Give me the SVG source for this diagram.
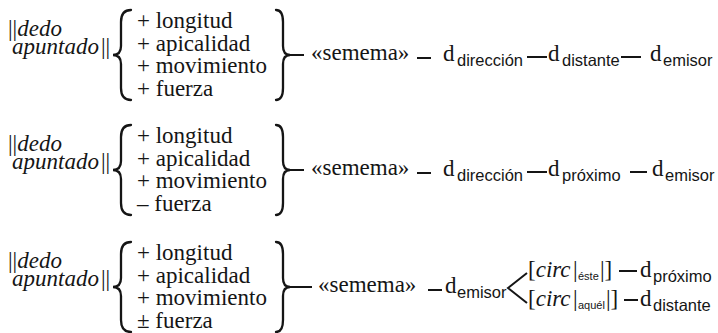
<svg xmlns="http://www.w3.org/2000/svg" width="718" height="333" viewBox="0 0 718 333">
<style>
.t{font-family:"Liberation Serif","Times New Roman",serif;font-size:23px;fill:#151515}
.i{font-style:italic}
.s{font-family:"Liberation Sans",Arial,sans-serif;font-size:16.5px}
.ss{font-family:"Liberation Sans",Arial,sans-serif;font-size:11px}
.c{stroke:#151515;stroke-width:2;fill:none}
.br{stroke:#151515;stroke-width:2.3;fill:none;stroke-linecap:round}
</style>
<defs>
<path id="lb" class="br" d="M131,10 C124,10 121,14 121,22 L121,46 C121,52 118,55 113,55 C118,55 121,58 121,64 L121,88 C121,96 124,100 131,100"/>
<path id="rb" class="br" d="M276,10 C281,10 283,14 283,22 L283,46 C283,52 285,55 290,55 C285,55 283,58 283,64 L283,88 C283,96 281,100 276,100"/>
</defs>

<!-- Row 1 -->
<g id="row1">
<g id="r1-lexeme"><text class="t"><tspan x="8" y="36">||</tspan><tspan class="i">dedo</tspan><tspan class="i" x="12" y="54">apuntado</tspan><tspan x="101" y="54">||</tspan></text></g>
<g id="r1-features">
<use href="#lb"/>
<text class="t"><tspan x="137" y="28">+ longitud</tspan><tspan x="137" y="50.5">+ apicalidad</tspan><tspan x="137" y="73">+ movimiento</tspan><tspan x="137" y="95.5">+ fuerza</tspan></text>
<use href="#rb"/>
</g>
<g id="r1-semema"><text class="t" x="311" y="60">«semema»</text></g>
<g id="r1-direccion"><text class="t" x="443" y="61">d<tspan class="s" x="457" y="66">dirección</tspan></text></g>
<g id="r1-distante"><text class="t" x="548" y="61">d<tspan class="s" x="562" y="66">distante</tspan></text></g>
<g id="r1-emisor"><text class="t" x="650" y="61">d<tspan class="s" x="663" y="66">emisor</tspan></text></g>
</g>

<!-- Row 2 -->
<g id="row2" transform="translate(0,115)">
<g id="r2-lexeme"><text class="t"><tspan x="8" y="36">||</tspan><tspan class="i">dedo</tspan><tspan class="i" x="12" y="54">apuntado</tspan><tspan x="101" y="54">||</tspan></text></g>
<g id="r2-features">
<use href="#lb"/>
<text class="t"><tspan x="137" y="28">+ longitud</tspan><tspan x="137" y="50.5">+ apicalidad</tspan><tspan x="137" y="73">+ movimiento</tspan><tspan x="137" y="95.5">– fuerza</tspan></text>
<use href="#rb"/>
</g>
<g id="r2-semema"><text class="t" x="311" y="60">«semema»</text></g>
<g id="r2-direccion"><text class="t" x="443" y="61">d<tspan class="s" x="457" y="66">dirección</tspan></text></g>
<g id="r2-proximo"><text class="t" x="548" y="61">d<tspan class="s" x="562" y="66">próximo</tspan></text></g>
<g id="r2-emisor"><text class="t" x="652" y="61">d<tspan class="s" x="665" y="66">emisor</tspan></text></g>
</g>

<!-- Row 3 -->
<g id="row3" transform="translate(0,232)">
<g id="r3-lexeme"><text class="t"><tspan x="8" y="36">||</tspan><tspan class="i">dedo</tspan><tspan class="i" x="12" y="54">apuntado</tspan><tspan x="101" y="54">||</tspan></text></g>
<g id="r3-features">
<use href="#lb"/>
<text class="t"><tspan x="137" y="28">+ longitud</tspan><tspan x="137" y="50.5">+ apicalidad</tspan><tspan x="137" y="73">+ movimiento</tspan><tspan x="137" y="95.5">± fuerza</tspan></text>
<use href="#rb"/>
</g>
<g id="r3-semema"><text class="t" x="318" y="60">«semema»</text></g>
<g id="r3-emisor"><text class="t" x="445" y="61">d<tspan class="s" x="457" y="66">emisor</tspan></text></g>
<g id="r3-circ-este"><text class="t" x="528" y="45">[<tspan class="i">circ</tspan><tspan x="573">|</tspan><tspan class="ss" x="578" y="48">éste</tspan><tspan x="600" y="45">|]</tspan></text></g>
<g id="r3-proximo"><text class="t" x="640" y="45">d<tspan class="s" x="653" y="50">próximo</tspan></text></g>
<g id="r3-circ-aquel"><text class="t" x="528" y="74">[<tspan class="i">circ</tspan><tspan x="573">|</tspan><tspan class="ss" x="578" y="77">aquél</tspan><tspan x="606" y="74">|]</tspan></text></g>
<g id="r3-distante"><text class="t" x="640" y="74">d<tspan class="s" x="653" y="79">distante</tspan></text></g>
</g>

<!-- Connectors -->
<g id="connectors" class="c">
<line x1="290" y1="55" x2="304" y2="55"/>
<line x1="417" y1="58" x2="431" y2="58"/>
<line x1="527" y1="57" x2="547" y2="57"/>
<line x1="621" y1="57" x2="641" y2="57"/>
<line x1="290" y1="170" x2="304" y2="170"/>
<line x1="417" y1="173" x2="431" y2="173"/>
<line x1="527" y1="172" x2="547" y2="172"/>
<line x1="630" y1="172" x2="647" y2="172"/>
<line x1="290" y1="287" x2="312" y2="287"/>
<line x1="428" y1="290" x2="442" y2="290"/>
<polyline points="527,273 508,288 527,303"/>
<line x1="619" y1="271" x2="637" y2="271"/>
<line x1="624" y1="300" x2="638" y2="300"/>
</g>
</svg>
